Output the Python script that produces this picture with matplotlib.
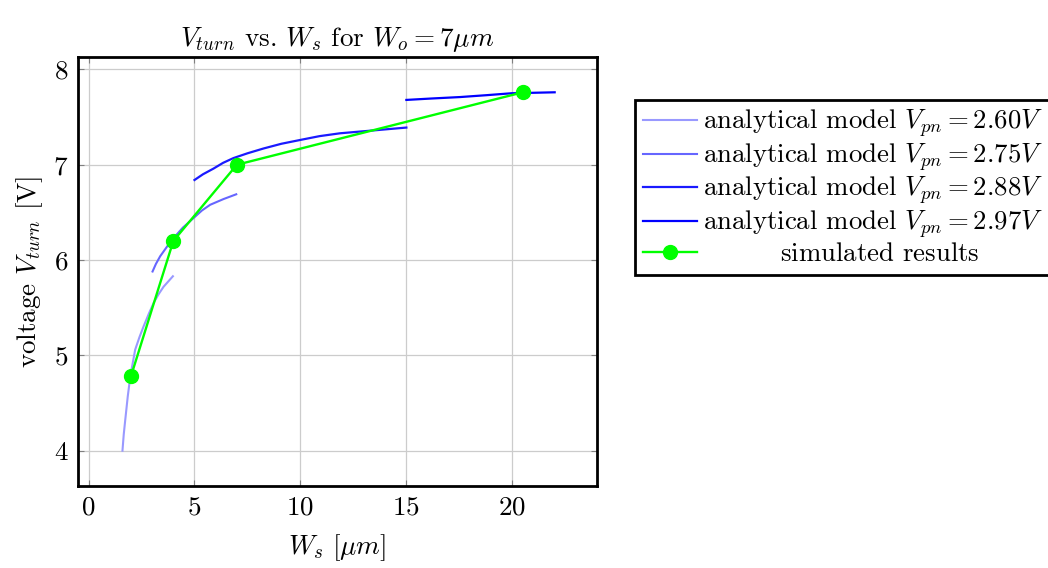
import matplotlib
matplotlib.use("Agg")
import matplotlib.pyplot as plt

plt.rcParams["font.family"] = "serif"
plt.rcParams["font.serif"] = ["cmr10", "DejaVu Serif"]
plt.rcParams["mathtext.fontset"] = "cm"
plt.rcParams["axes.formatter.use_mathtext"] = True
plt.rcParams["axes.unicode_minus"] = False

# analytical model curves, one per junction voltage
ws_260 = [1.60, 1.66, 1.73, 1.85, 1.97, 2.20, 2.40, 2.59, 2.85, 3.07, 3.30, 3.54, 3.78, 3.98]
vt_260 = [4.00, 4.17, 4.32, 4.57, 4.78, 5.06, 5.19, 5.30, 5.44, 5.55, 5.64, 5.72, 5.78, 5.83]

ws_275 = [3.02, 3.18, 3.38, 3.70, 4.01, 4.45, 4.95, 5.35, 5.74, 6.37, 6.97]
vt_275 = [5.88, 5.96, 6.04, 6.14, 6.23, 6.34, 6.44, 6.52, 6.58, 6.64, 6.69]

ws_288 = [5.00, 5.40, 5.90, 6.35, 6.84, 7.50, 8.25, 9.10, 9.99, 10.90, 11.87, 13.44, 15.00]
vt_288 = [6.84, 6.90, 6.96, 7.02, 7.07, 7.12, 7.17, 7.22, 7.26, 7.30, 7.33, 7.36, 7.39]

ws_297 = [15.00, 16.20, 17.53, 18.80, 19.97, 21.00, 22.00]
vt_297 = [7.68, 7.695, 7.71, 7.73, 7.75, 7.755, 7.76]

# simulation
ws_sim = [2.0, 4.0, 7.0, 20.5]
vt_sim = [4.78, 6.20, 7.00, 7.76]

FS = 19.5
LEG_FS = 19.3

fig = plt.figure(figsize=(10.48, 5.68), dpi=100)
ax = fig.add_axes([0.0744, 0.1444, 0.4953, 0.7552])

ax.plot(ws_260, vt_260, color="#9999ff", lw=1.5,
        label=r"analytical model $V_{pn} = 2.60V$")
ax.plot(ws_275, vt_275, color="#6666ff", lw=1.5,
        label=r"analytical model $V_{pn} = 2.75V$")
ax.plot(ws_288, vt_288, color="#1a1aff", lw=1.6,
        label=r"analytical model $V_{pn} = 2.88V$")
ax.plot(ws_297, vt_297, color="#0000ff", lw=1.6,
        label=r"analytical model $V_{pn} = 2.97V$")
ax.plot(ws_sim, vt_sim, color="#00ff00", lw=1.7, marker="o", ms=10,
        label=r"$\quad\quad\quad\;$simulated results")

ax.set_xlim(-0.5, 24.0)
ax.set_ylim(3.63, 8.13)
ax.set_xticks([0, 5, 10, 15, 20])
ax.set_yticks([4, 5, 6, 7, 8])
ax.grid(color="#cccccc", lw=0.9)
ax.set_axisbelow(True)
ax.tick_params(direction="in", top=True, right=True, length=4,
               color="#808080", labelsize=FS, pad=7)
for s in ax.spines.values():
    s.set_linewidth(2.0)

ax.set_title(r"$V_{turn}$ vs. $W_s$ for $W_o = 7\mu m$", fontsize=FS, pad=8)
ax.set_xlabel(r"$W_s\ [\mu m]$", fontsize=FS, labelpad=9)
ax.set_ylabel(r"voltage $V_{turn}$ [V]", fontsize=FS, labelpad=6)

leg = ax.legend(loc="upper left", bbox_to_anchor=(635 / 1048, 1 - 100 / 568),
                bbox_transform=fig.transFigure,
                fontsize=LEG_FS, frameon=True, fancybox=False, edgecolor="black",
                framealpha=1, handlelength=2.0, handletextpad=0.25,
                borderpad=0.3, borderaxespad=0, labelspacing=0.06)
leg.get_frame().set_linewidth(2.0)

fig.savefig("out.png", dpi=100)
